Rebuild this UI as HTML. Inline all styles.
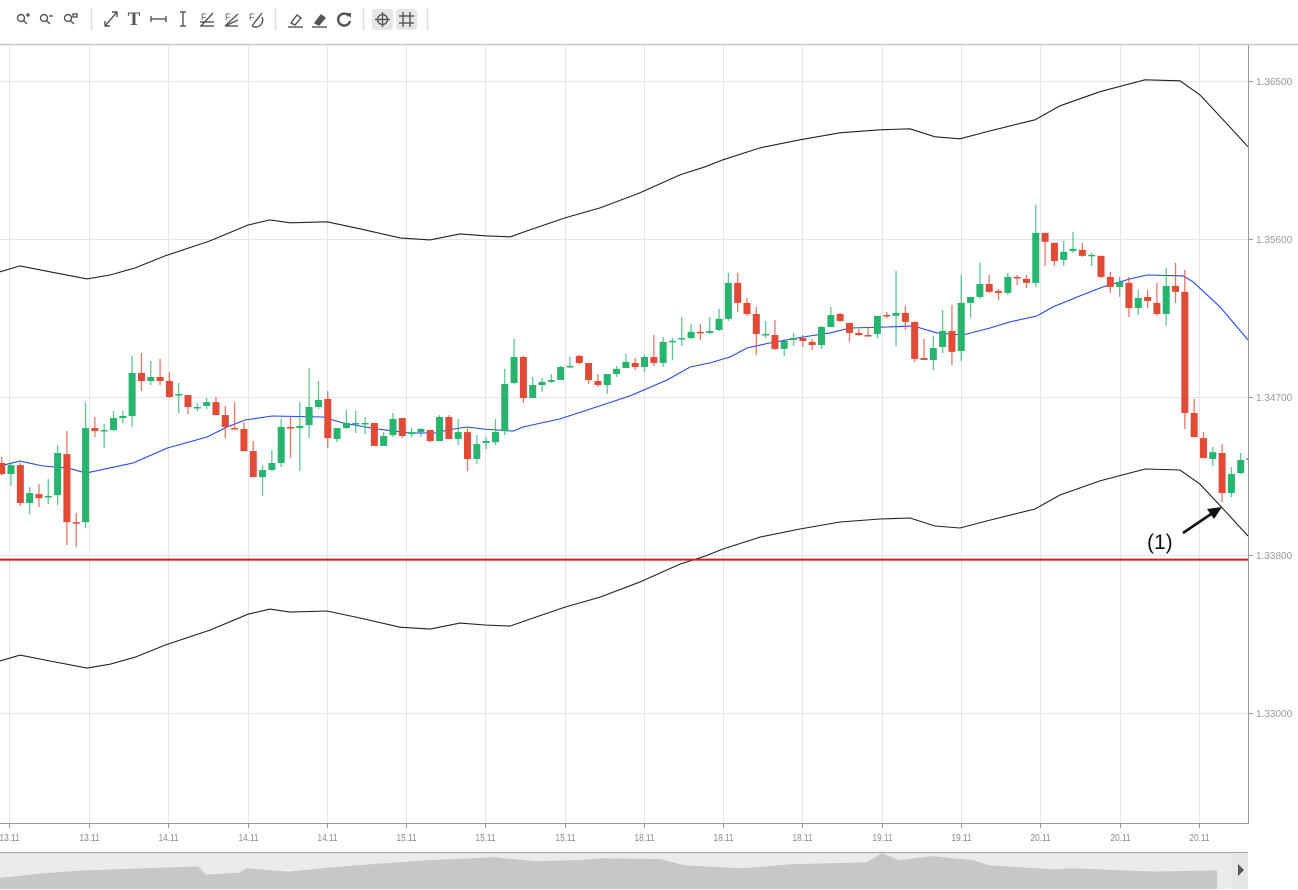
<!DOCTYPE html>
<html><head><meta charset="utf-8"><style>
html,body{margin:0;padding:0;background:#fff;}
svg{display:block;font-family:"Liberation Sans",sans-serif;}
</style></head><body>
<svg id="chart" width="1298" height="890" viewBox="0 0 1298 890">
  <g id="toolbar" fill="none" stroke="#555" stroke-width="1.4">
    <g><circle cx="21" cy="18" r="3.5"/><line x1="23.5" y1="20.5" x2="27" y2="24"/><line x1="26" y1="15" x2="30" y2="15"/><line x1="28" y1="13" x2="28" y2="17"/></g>
    <g><circle cx="44" cy="18" r="3.5"/><line x1="46.5" y1="20.5" x2="50" y2="24"/><line x1="49" y1="16" x2="53" y2="16"/></g>
    <g><circle cx="68" cy="18" r="3.5"/><line x1="70.5" y1="20.5" x2="74" y2="24"/><rect x="73" y="14" width="4" height="3"/></g>
    <line x1="91.5" y1="8" x2="91.5" y2="30" stroke="#ddd"/>
    <g><line x1="105" y1="26" x2="117" y2="12"/><polyline points="112,12 117,12 117,17"/><polyline points="105,21 105,26 110,26"/></g>
    <text x="134" y="25" font-family="Liberation Serif" font-weight="bold" font-size="19" fill="#555" stroke="none" text-anchor="middle">T</text>
    <g><line x1="151" y1="19" x2="166" y2="19"/><line x1="151" y1="16" x2="151" y2="22"/><line x1="166" y1="16" x2="166" y2="22"/></g>
    <g><line x1="183" y1="12" x2="183" y2="26"/><line x1="180" y1="12" x2="186" y2="12"/><line x1="180" y1="26" x2="186" y2="26"/></g>
    <g><text x="201" y="20" font-size="9" fill="#555" stroke="none">F</text><line x1="200" y1="22" x2="214" y2="22"/><line x1="200" y1="26" x2="214" y2="26"/><line x1="201" y1="26" x2="213" y2="13"/></g>
    <g><text x="225" y="20" font-size="9" fill="#555" stroke="none">F</text><line x1="225" y1="26" x2="238" y2="14"/><line x1="225" y1="26" x2="238" y2="20"/><line x1="225" y1="26" x2="238" y2="26"/></g>
    <g><text x="249" y="20" font-size="9" fill="#555" stroke="none">F</text><path d="M252 26 A7 7 0 0 0 262 17"/><line x1="252" y1="26" x2="262" y2="13"/></g>
    <line x1="275.5" y1="8" x2="275.5" y2="30" stroke="#ddd"/>
    <g><path d="M291 23 L297 15 L301 18 L295 25 Z"/><line x1="288" y1="27" x2="303" y2="27"/></g>
    <g><path d="M315 23 L321 15 L325 18 L319 25 Z" fill="#555"/><line x1="312" y1="27" x2="327" y2="27"/></g>
    <g><path d="M349 16 A6 6 0 1 0 350 21" stroke-width="2.5"/><polygon points="346,13 351,13 351,18" fill="#555" stroke="none"/></g>
    <line x1="363.5" y1="8" x2="363.5" y2="30" stroke="#ddd"/>
    <rect x="372" y="9" width="21" height="21" rx="3" fill="#e6e6e6" stroke="none"/>
    <g><circle cx="382.5" cy="19.5" r="5"/><line x1="375" y1="19.5" x2="390" y2="19.5"/><line x1="382.5" y1="12" x2="382.5" y2="27"/></g>
    <rect x="396" y="9" width="21" height="21" rx="3" fill="#e6e6e6" stroke="none"/>
    <g><line x1="403" y1="12" x2="403" y2="27"/><line x1="410" y1="12" x2="410" y2="27"/><line x1="399" y1="16" x2="414" y2="16"/><line x1="399" y1="23" x2="414" y2="23"/></g>
    <line x1="427.5" y1="8" x2="427.5" y2="30" stroke="#ddd"/>
  </g>
  <line x1="0" y1="44.5" x2="1298" y2="44.5" stroke="#c8c8c8" stroke-width="1.5"/>
  <defs><clipPath id="plotclip"><rect x="0" y="45" width="1248" height="778"/></clipPath></defs>
  <g id="grid"></g>
  <g id="plot" clip-path="url(#plotclip)"></g>
  <g id="axes"></g>
  <g id="nav"></g>
</svg>
<script>
const openP=[1.34324,1.34261,1.34312,1.34096,1.34147,1.34130,1.34141,1.34375,1.33987,1.33987,1.34523,1.34506,1.34512,1.34580,1.34592,1.34837,1.34791,1.34814,1.34791,1.34712,1.34711,1.34640,1.34649,1.34671,1.34597,1.34523,1.34518,1.34392,1.34244,1.34284,1.34324,1.34529,1.34523,1.34540,1.34643,1.34689,1.34461,1.34523,1.34549,1.34549,1.34552,1.34421,1.34483,1.34580,1.34489,1.34500,1.34512,1.34449,1.34586,1.34461,1.34500,1.34347,1.34438,1.34443,1.34506,1.34780,1.34928,1.34694,1.34768,1.34786,1.34797,1.34871,1.34934,1.34894,1.34791,1.34768,1.34831,1.34865,1.34894,1.34871,1.34928,1.34894,1.35017,1.35031,1.35036,1.35071,1.35065,1.35082,1.35145,1.35350,1.35236,1.35173,1.35056,1.35053,1.34974,1.35025,1.35036,1.35014,1.34996,1.35099,1.35173,1.35122,1.35065,1.35053,1.35059,1.35167,1.35162,1.35179,1.35128,1.34922,1.34911,1.34985,1.35076,1.34962,1.35236,1.35270,1.35344,1.35304,1.35293,1.35384,1.35373,1.35350,1.35635,1.35578,1.35481,1.35532,1.35538,1.35507,1.35504,1.35384,1.35327,1.35350,1.35207,1.35270,1.35236,1.35173,1.35333,1.35299,1.34609,1.34466,1.34347,1.34381,1.34153,1.34267,1.34341];
const highP=[1.34358,1.34329,1.34324,1.34187,1.34204,1.34233,1.34426,1.34506,1.34039,1.34671,1.34586,1.34546,1.34620,1.34620,1.34934,1.34951,1.34905,1.34917,1.34843,1.34780,1.34711,1.34666,1.34694,1.34700,1.34649,1.34671,1.34557,1.34449,1.34312,1.34398,1.34575,1.34586,1.34671,1.34865,1.34791,1.34734,1.34523,1.34626,1.34620,1.34586,1.34552,1.34500,1.34609,1.34580,1.34523,1.34523,1.34512,1.34597,1.34597,1.34575,1.34523,1.34483,1.34472,1.34575,1.34860,1.35031,1.34934,1.34814,1.34808,1.34831,1.34877,1.34928,1.34940,1.34894,1.34831,1.34831,1.34877,1.34945,1.34922,1.34940,1.35053,1.35042,1.35036,1.35156,1.35116,1.35116,1.35156,1.35202,1.35407,1.35407,1.35264,1.35213,1.35133,1.35139,1.35019,1.35065,1.35053,1.35031,1.35105,1.35213,1.35179,1.35122,1.35088,1.35099,1.35162,1.35185,1.35418,1.35219,1.35128,1.35031,1.35048,1.35196,1.35224,1.35395,1.35270,1.35464,1.35395,1.35316,1.35407,1.35395,1.35395,1.35794,1.35635,1.35578,1.35589,1.35641,1.35578,1.35521,1.35504,1.35413,1.35384,1.35384,1.35310,1.35310,1.35350,1.35435,1.35464,1.35424,1.34689,1.34500,1.34415,1.34432,1.34301,1.34381,1.34369];
const lowP=[1.34255,1.34193,1.34079,1.34033,1.34073,1.34090,1.34084,1.33856,1.33845,1.33953,1.34472,1.34409,1.34506,1.34552,1.34529,1.34734,1.34768,1.34768,1.34694,1.34609,1.34603,1.34620,1.34632,1.34597,1.34466,1.34518,1.34392,1.34244,1.34136,1.34278,1.34301,1.34352,1.34278,1.34466,1.34632,1.34409,1.34443,1.34518,1.34495,1.34489,1.34421,1.34421,1.34472,1.34466,1.34472,1.34472,1.34443,1.34449,1.34461,1.34426,1.34278,1.34318,1.34404,1.34426,1.34483,1.34774,1.34666,1.34694,1.34729,1.34780,1.34797,1.34865,1.34888,1.34774,1.34757,1.34717,1.34814,1.34865,1.34854,1.34843,1.34877,1.34871,1.34911,1.34991,1.35031,1.35025,1.35059,1.35076,1.35133,1.35185,1.35162,1.34939,1.35036,1.34968,1.34934,1.34991,1.34985,1.34968,1.34974,1.35099,1.35128,1.35014,1.35048,1.35048,1.35036,1.35150,1.34991,1.35082,1.34900,1.34911,1.34854,1.34951,1.34882,1.34905,1.35150,1.35259,1.35293,1.35253,1.35281,1.35338,1.35321,1.35327,1.35447,1.35447,1.35447,1.35521,1.35498,1.35447,1.35378,1.35293,1.35270,1.35156,1.35167,1.35207,1.35162,1.35105,1.35236,1.34518,1.34472,1.34352,1.34307,1.34101,1.34130,1.34261,1.34329];
const closeP=[1.34261,1.34312,1.34096,1.34153,1.34124,1.34136,1.34381,1.33987,1.33982,1.34523,1.34506,1.34512,1.34580,1.34592,1.34837,1.34791,1.34814,1.34791,1.34700,1.34717,1.34643,1.34643,1.34671,1.34597,1.34529,1.34520,1.34392,1.34244,1.34284,1.34324,1.34529,1.34523,1.34535,1.34643,1.34683,1.34466,1.34523,1.34552,1.34552,1.34552,1.34421,1.34478,1.34575,1.34478,1.34500,1.34518,1.34449,1.34586,1.34461,1.34500,1.34347,1.34432,1.34449,1.34500,1.34774,1.34928,1.34694,1.34768,1.34786,1.34797,1.34871,1.34877,1.34894,1.34797,1.34768,1.34831,1.34860,1.34900,1.34871,1.34928,1.34894,1.35014,1.35020,1.35036,1.35071,1.35068,1.35076,1.35145,1.35350,1.35236,1.35173,1.35059,1.35059,1.34974,1.35019,1.35036,1.35019,1.34996,1.35099,1.35167,1.35133,1.35065,1.35053,1.35050,1.35162,1.35165,1.35179,1.35128,1.34917,1.34911,1.34979,1.35076,1.34957,1.35236,1.35270,1.35344,1.35299,1.35293,1.35384,1.35381,1.35350,1.35635,1.35584,1.35475,1.35527,1.35544,1.35504,1.35510,1.35384,1.35327,1.35356,1.35207,1.35264,1.35247,1.35173,1.35333,1.35299,1.34609,1.34472,1.34352,1.34386,1.34153,1.34261,1.34341,1.34352];
const bandT=[-0.18,1.96,5.18,9.16,11.62,14.31,17.53,22.36,26.44,28.8,30.95,34.92,38.46,42.75,45.97,49.2,51.88,54.56,56.7,60.47,64.23,68.52,72.81,75.5,77.43,81.4,85.69,89.99,94.28,97.5,100.18,102.87,106.09,110.92,113.6,117.89,122.72,126.48,128.63,131.31,133.78];
const upperBand=[1.35413,1.35447,1.35413,1.35373,1.35395,1.35435,1.35504,1.35589,1.35680,1.35709,1.35692,1.35698,1.35658,1.35606,1.35595,1.35629,1.35618,1.35612,1.35652,1.35720,1.35777,1.35863,1.35965,1.36011,1.36051,1.36119,1.36165,1.36205,1.36222,1.36228,1.36182,1.36171,1.36216,1.36279,1.36359,1.36439,1.36507,1.36501,1.36421,1.36268,1.36125];
const lowerBand=[1.33196,1.33230,1.33196,1.33156,1.33178,1.33218,1.33287,1.33372,1.33463,1.33492,1.33475,1.33481,1.33441,1.33389,1.33378,1.33412,1.33401,1.33395,1.33435,1.33503,1.33560,1.33646,1.33748,1.33794,1.33834,1.33902,1.33948,1.33988,1.34005,1.34011,1.33965,1.33954,1.33999,1.34062,1.34142,1.34222,1.34290,1.34284,1.34204,1.34051,1.33908];
const maT=[-0.18,1.96,4.43,7.12,9.05,14.09,17.74,22.04,24.18,26.12,29.01,34.49,36.64,40.29,43.83,46.73,47.8,49.95,51.67,54.89,55.96,59.93,63.47,67.44,71.42,73.89,76.03,78.18,80.0,82.47,86.01,88.91,91.06,95.03,97.82,100.4,103.19,106.09,108.24,111.14,112.85,115.75,118.22,121.12,122.94,126.81,127.88,130.78,133.78];
const maValues=[1.34307,1.34335,1.34307,1.34295,1.34267,1.34324,1.34409,1.34472,1.34529,1.34569,1.34592,1.34586,1.34552,1.34518,1.34495,1.34495,1.34512,1.34529,1.34518,1.34506,1.34529,1.34575,1.34637,1.34706,1.34797,1.34871,1.34894,1.34928,1.34979,1.35008,1.35042,1.35065,1.35093,1.35099,1.35105,1.35065,1.35053,1.35093,1.35128,1.35162,1.35213,1.35276,1.35327,1.35373,1.35395,1.35390,1.35356,1.35213,1.35025];
const supportLevel=1.33774;
const yTickValues=[1.365,1.356,1.347,1.338,1.32899];
const yTickLabels=["1.36500","1.35600","1.34700","1.33800","1.33000"];
const xTickT=[0.78,9.37,17.85,26.44,34.92,43.4,51.88,60.47,68.95,77.43,85.91,94.5,102.97,111.46,120.05,128.52];
const xTickLabels=["13.11","13.11","14.11","14.11","14.11","15.11","15.11","15.11","18.11","18.11","18.11","19.11","19.11","20.11","20.11","20.11"];
const navT=[0,41,82,198,206,239,247,289,330,371,429,495,536,577,602,660,684,742,791,866,882,899,932,973,989,1055,1072,1154,1210,1217];
const navValues=[0.30,0.42,0.50,0.61,0.39,0.44,0.56,0.47,0.58,0.67,0.78,0.86,0.75,0.78,0.83,0.81,0.64,0.56,0.67,0.72,0.97,0.78,0.89,0.78,0.64,0.53,0.56,0.47,0.50,0.50];

const NS="http://www.w3.org/2000/svg";
const X0=1.7, STEP=9.316;
function xScale(t){return X0+t*STEP;}
function yScale(p){return 397-(p-1.347)/0.009*158;}
function mk(tag,attrs,parent){const e=document.createElementNS(NS,tag);for(const k in attrs)e.setAttribute(k,attrs[k]);parent.appendChild(e);return e;}
const grid=document.getElementById('grid'),plot=document.getElementById('plot'),axes=document.getElementById('axes'),nav=document.getElementById('nav');

yTickValues.forEach((v,i)=>{const y=Math.round(yScale(v))+0.5;
  const g=mk('line',{x1:0,x2:1248,y1:y,y2:y,stroke:'#e6e6e6','stroke-width':1},grid);
  
  
  const t=mk('line',{x1:1248,x2:1253,y1:y,y2:y,stroke:'#999'},axes);
  
  
  const l=mk('text',{x:1256,y:y+3.5,'font-size':10,fill:'#999'},axes);l.textContent=yTickLabels[i];
  
  
});
xTickT.forEach((v,i)=>{const x=Math.round(xScale(v))+0.5;
  const g=mk('line',{x1:x,x2:x,y1:45,y2:823,stroke:'#e6e6e6','stroke-width':1},grid);
  
  
  const t=mk('line',{x1:x,x2:x,y1:823,y2:828,stroke:'#999'},axes);
  
  
  const l=mk('text',{x:x,y:841,'font-size':10,fill:'#888','text-anchor':'middle',textLength:20,lengthAdjust:'spacingAndGlyphs'},axes);l.textContent=xTickLabels[i];
  
  
});
function linePath(ts,vs){return ts.map((t,i)=>(i?'L':'M')+xScale(t).toFixed(1)+' '+yScale(vs[i]).toFixed(1)).join(' ');}
const ub=mk('path',{d:linePath(bandT,upperBand),fill:'none',stroke:'#222','stroke-width':1.1},plot);


const lb=mk('path',{d:linePath(bandT,lowerBand),fill:'none',stroke:'#222','stroke-width':1.1},plot);


const sl=mk('line',{x1:0,x2:1248,y1:yScale(supportLevel),y2:yScale(supportLevel),stroke:'#e8141c','stroke-width':2},plot);


const ma=mk('path',{d:linePath(maT,maValues),fill:'none',stroke:'#2347f5','stroke-width':1.1},plot);


openP.forEach((o,i)=>{const c=closeP[i],up=c>=o,col=up?'#27b46e':'#e04a36',x=xScale(i);
  const g=mk('g',{},plot);
  
  
  mk('line',{x1:x,x2:x,y1:yScale(highP[i]),y2:yScale(lowP[i]),stroke:col,'stroke-width':1.3,'stroke-opacity':0.75},g);
  const top=yScale(Math.max(o,c)),h=Math.max(1.5,Math.abs(yScale(o)-yScale(c)));
  mk('rect',{x:x-3.5,y:top,width:7,height:h,fill:col},g);
});
const ann=mk('g',{},plot);


const at=mk('text',{x:1147,y:549,'font-size':21,fill:'#111'},ann);at.textContent='(1)';
mk('line',{x1:1183,y1:533,x2:1214,y2:512,stroke:'#111','stroke-width':2.6},ann);
mk('polygon',{points:'1222,507 1207,509 1214,519',fill:'#111'},ann);

const ra=mk('line',{x1:1248.5,x2:1248.5,y1:45,y2:823,stroke:'#999','stroke-width':1},axes);


const xa=mk('line',{x1:0,x2:1249,y1:823.5,y2:823.5,stroke:'#999','stroke-width':1},axes);



const nb=mk('rect',{x:0,y:852,width:1248,height:37,fill:'#ebebeb'},nav);


let d='M0 889 '+navT.map((t,i)=>'L'+t+' '+(889-navValues[i]*37).toFixed(1)).join(' ')+' L1217 889 Z';
const na=mk('path',{d:d,fill:'#c7c7c7'},nav);


const nt=mk('line',{x1:0,x2:1248,y1:852.5,y2:852.5,stroke:'#aaa','stroke-width':1.2},nav);


const nr=mk('rect',{x:1232,y:853,width:16,height:36,fill:'#e6e6e6'},nav);


mk('polygon',{points:'1238,864 1244,870 1238,876',fill:'#555'},nav);
</script>
</body></html>
